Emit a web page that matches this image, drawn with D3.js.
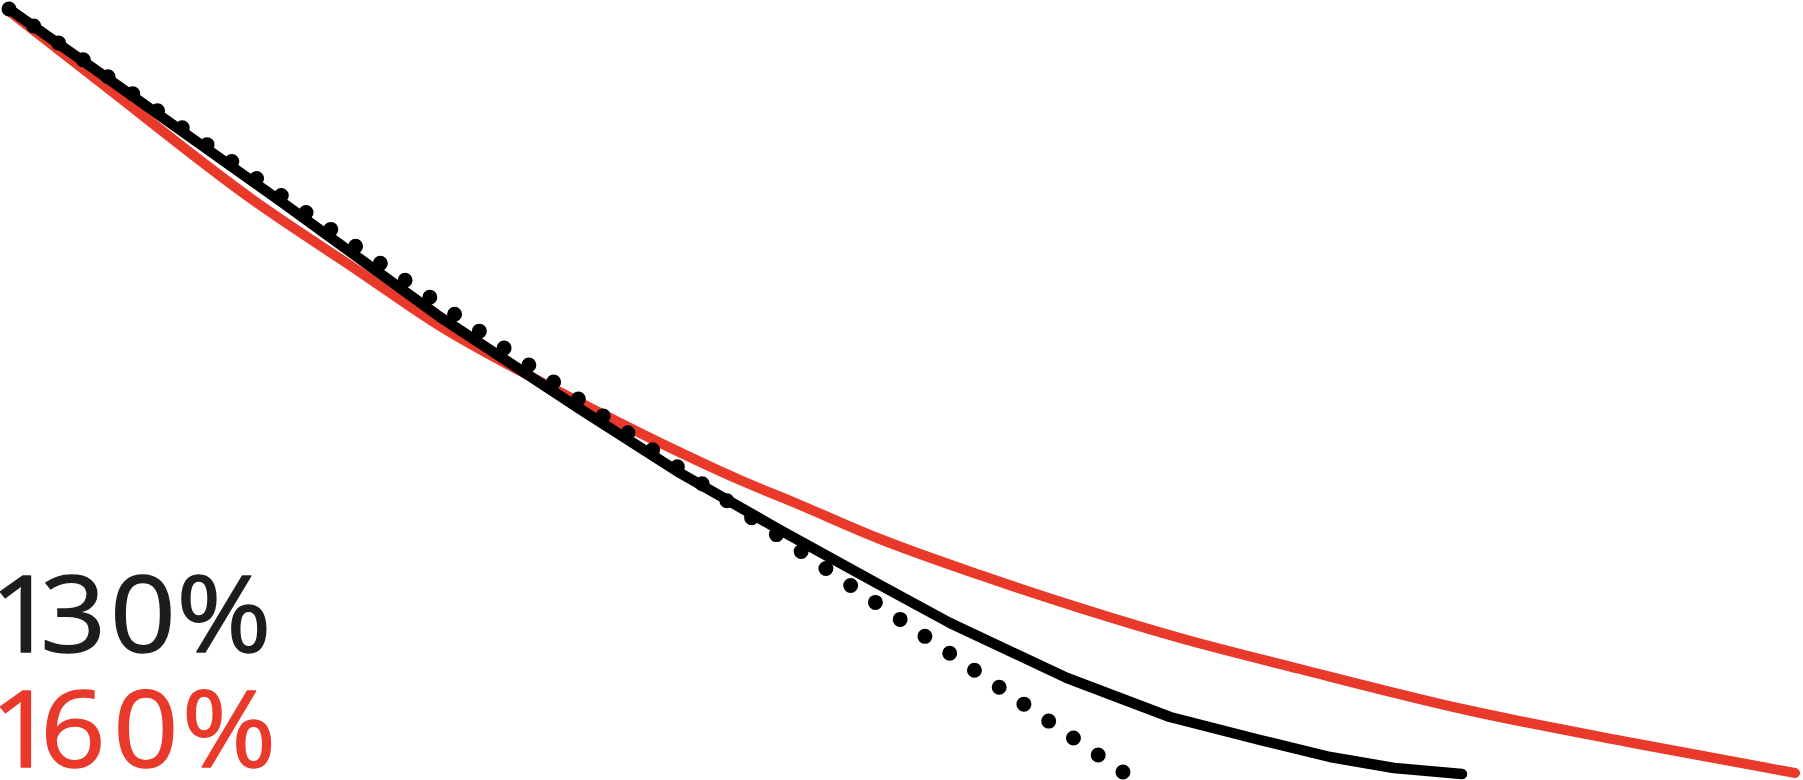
<!DOCTYPE html>
<html>
<head>
<meta charset="utf-8">
<script src="https://cdn.jsdelivr.net/npm/d3@7"></script>
<style>
  body { margin: 0; background: #fff; }
  svg { display: block; }
</style>
</head>
<body>
<script>
// black line (130%)
const blackX = [0, 9.1, 27.4, 43.1, 57.1, 67.1, 77.1, 87.1, 94.1, 105.8, 116.1, 125.1, 132.1, 138.5, 145.3];
const blackY = [76.5, 70.1, 57.1, 45.7, 36.5, 30.1, 24.4, 18.9, 15.1, 9.6, 5.7, 3.4, 1.7, 0.6, 0];

// red line (160%)
const redX = [0, 9.1, 24.4, 35.1, 43.1, 52.8, 63.1, 73.1, 79.1, 87.1, 97.1, 107.1, 117.1, 129.1, 145.8, 162.4, 178.6];
const redY = [76.3, 69.2, 57.4, 50.2, 44.8, 39.4, 34.1, 29.4, 26.9, 23.5, 19.9, 16.6, 13.6, 10.5, 6.4, 3.1, 0.1];

// dotted line
const dotX = [0, 111.4];
const dotY = [76.5, 0.2];
const dotCount = 46;

// labels
const labels = ["130%", "160%"];

const w = 1803;
const h = 780;

const black = "#000000";
const red = "#e9392b";
const textBlack = "#1d1d1b";

const xScale = d3.scaleLinear()
                 .domain([0, 180])
                 .range([9, 1809]);

const yScale = d3.scaleLinear()
                 .domain([0, 80])
                 .range([774, -26]);

const svg = d3.select('body')
              .append('svg')
              .attr('width', w)
              .attr('height', h);

const line = d3.line()
               .x((d) => xScale(d[0]))
               .y((d) => yScale(d[1]));

// red curve, drawn first so black sits on top
svg.append('path')
   .datum(redX.map((x, i) => [x, redY[i]]))
   .attr('d', line.curve(d3.curveMonotoneX))
   .attr('fill', 'none')
   .attr('stroke', red)
   .attr('stroke-width', 10)
   .attr('stroke-linecap', 'round')
   .attr('stroke-linejoin', 'round');

// black line
svg.append('path')
   .datum(blackX.map((x, i) => [x, blackY[i]]))
   .attr('d', line.curve(d3.curveLinear))
   .attr('fill', 'none')
   .attr('stroke', black)
   .attr('stroke-width', 10.5)
   .attr('stroke-linecap', 'round')
   .attr('stroke-linejoin', 'round');

// dotted line: round caps on zero-length dashes
const dotted = svg.append('path')
   .datum(dotX.map((x, i) => [x, dotY[i]]))
   .attr('d', line.curve(d3.curveLinear))
   .attr('fill', 'none')
   .attr('stroke', black)
   .attr('stroke-width', 15)
   .attr('stroke-linecap', 'round');

const len = dotted.node().getTotalLength();
const gap = len / (dotCount - 1);
dotted.attr('stroke-dasharray', `0 ${gap - 0.001}`);

// percentage labels, each glyph centred in the box the original lettering fills
const family = '"Open Sans", Roboto, sans-serif';
const weight = 500;
const ctx = document.createElement('canvas').getContext('2d');
ctx.font = `${weight} 100px ${family}`;

function addLabel(text, color, boxes, top, bottom) {
    const m = ctx.measureText(text);
    const size = 100 * (bottom - top) / m.actualBoundingBoxAscent;
    const k = size / 100;

    const glyphs = text.split('').map((c) => ctx.measureText(c));
    const inkSum = d3.sum(glyphs, (g) => (g.actualBoundingBoxLeft + g.actualBoundingBoxRight) * k);
    const boxSum = d3.sum(boxes, (b) => b[1] - b[0]);
    const sx = boxSum / inkSum;

    const xs = glyphs.map((g, i) => {
        const inkW = (g.actualBoundingBoxLeft + g.actualBoundingBoxRight) * k;
        const centre = (boxes[i][0] + boxes[i][1]) / 2;
        return centre / sx - inkW / 2 + g.actualBoundingBoxLeft * k;
    });

    // a thin stroke in the same colour brings the stems up to the original weight
    svg.append('text')
       .attr('x', xs.join(' '))
       .attr('y', 0)
       .attr('transform', `translate(0, ${bottom}) scale(${sx}, 1)`)
       .style('font-family', family)
       .style('font-weight', weight)
       .style('font-size', size + 'px')
       .style('fill', color)
       .style('stroke', color)
       .style('stroke-width', 1.4)
       .style('stroke-linejoin', 'round')
       .text(text);
}

addLabel(labels[0], textBlack, [[2, 30], [45, 100], [110, 177], [185, 262]], 573, 652);
addLabel(labels[1], red, [[2, 30], [47, 100], [113, 180], [190, 267]], 688, 767);
</script>
</body>
</html>
